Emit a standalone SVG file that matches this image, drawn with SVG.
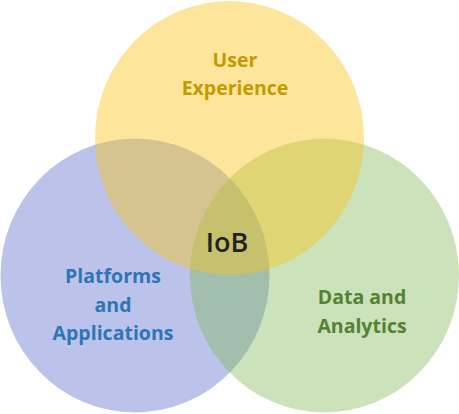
<svg xmlns="http://www.w3.org/2000/svg" width="459" height="414" viewBox="0 0 459 414">
<style>
.c{fill-opacity:0.4}
.t{font-family:"Open Sans","Noto Sans","Liberation Sans",sans-serif;font-weight:700;font-size:19.5px;text-anchor:middle}
</style>
<rect width="459" height="414" fill="#ffffff"/>
<g id="platforms">
<ellipse class="c" cx="135" cy="275.5" rx="134.5" ry="137" fill="#5569CA"/>
</g>
<g id="data">
<ellipse class="c" cx="324.5" cy="275.5" rx="134.5" ry="137" fill="#7DB652"/>
</g>
<g id="user">
<ellipse class="c" cx="229.5" cy="138" rx="134.5" ry="137" fill="#FAC314" style="fill-opacity:0.42"/>
</g>
<g id="labels">
<text class="t" x="235" y="67" fill="#C49A00">User</text>
<text class="t" x="235" y="95" fill="#C49A00">Experience</text>
<text class="t" x="113" y="283" fill="#2E75B6">Platforms</text>
<text class="t" x="113" y="312" fill="#2E75B6">and</text>
<text class="t" x="113" y="340" fill="#2E75B6">Applications</text>
<text class="t" x="362" y="304" fill="#548235">Data and</text>
<text class="t" x="362" y="333" fill="#548235">Analytics</text>
<text class="t" x="227" y="252" fill="#222222" style="font-size:27px;font-weight:600">IoB</text>
</g>
</svg>
